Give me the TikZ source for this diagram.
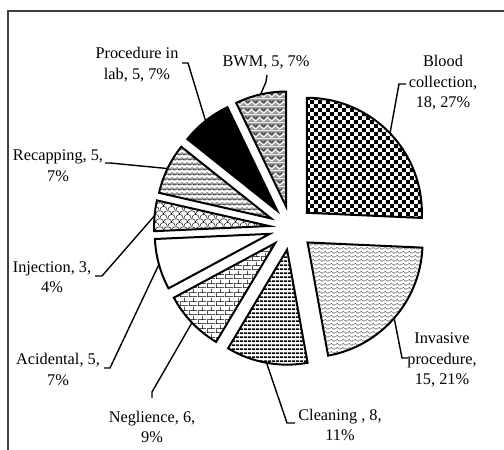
\documentclass[tikz,border=0pt]{standalone}
\usepackage{fontspec}
\setmainfont{Liberation Serif}
\usetikzlibrary{calc,patterns.meta}

% fill patterns of the slices
\tikzdeclarepattern{name=checker, type=uncolored,
  bounding box={(0pt,0pt) and (8.4pt,8.4pt)}, tile size={(8.4pt,8.4pt)},
  code={\fill (0pt,0pt) rectangle (4.2pt,4.2pt); \fill (4.2pt,4.2pt) rectangle (8.4pt,8.4pt);}}
\tikzdeclarepattern{name=wavy, type=colored,
  bounding box={(0pt,0pt) and (6pt,4pt)}, tile size={(6pt,4pt)},
  code={\draw[black!60,line width=0.7pt] (0pt,2pt) sin (1.5pt,3.2pt) cos (3pt,2pt) sin (4.5pt,0.8pt) cos (6pt,2pt);}}
\tikzdeclarepattern{name=hstripes, type=uncolored,
  bounding box={(0pt,0pt) and (4pt,4pt)}, tile size={(4pt,4pt)},
  code={\fill (0pt,0pt) rectangle (4pt,2pt);}}
\tikzdeclarepattern{name=brickwall, type=uncolored,
  bounding box={(0pt,0pt) and (9pt,9pt)}, tile size={(9pt,9pt)},
  code={\draw[line width=0.6pt] (0pt,0.3pt) -- (9pt,0.3pt) (0pt,4.8pt) -- (9pt,4.8pt)
          (0.3pt,0.3pt) -- (0.3pt,4.8pt) (4.8pt,4.8pt) -- (4.8pt,9pt);}}
\tikzdeclarepattern{name=scales, type=uncolored,
  bounding box={(0pt,0pt) and (8pt,8pt)}, tile size={(8pt,8pt)},
  code={\draw[line width=0.5pt] (0pt,0pt) arc[start angle=180,end angle=0,radius=4pt]
          (-4pt,4pt) arc[start angle=180,end angle=0,radius=4pt]
          (4pt,4pt) arc[start angle=180,end angle=0,radius=4pt];}}
\tikzdeclarepattern{name=zigzag, type=colored,
  bounding box={(0pt,0pt) and (5pt,4.5pt)}, tile size={(5pt,4.5pt)},
  code={\draw[black,line width=0.6pt] (0pt,0.8pt) -- (2.5pt,2.6pt) -- (5pt,0.8pt);
        \draw[black!45,line width=0.6pt] (0pt,2.4pt) -- (2.5pt,4.2pt) -- (5pt,2.4pt);}}
\tikzdeclarepattern{name=weave, type=colored,
  bounding box={(0pt,0pt) and (8pt,8pt)}, tile size={(8pt,8pt)},
  code={\fill[black!40] (0pt,0pt) rectangle (8pt,8pt);
        \draw[white,line width=1pt] (0pt,1pt) -- (4pt,5pt) -- (8pt,1pt);
        \draw[black,line width=0.6pt] (0pt,4pt) -- (2pt,6pt) (6pt,6pt) -- (8pt,4pt);}}

\tikzset{
  slice/.style={draw=black, line width=2pt, line join=miter},
  leader/.style={line width=1.4pt},
  lbl/.style={align=center, inner sep=0pt, font=\fontsize{16.3}{20.5}\selectfont},
  blood slice/.style={pattern=checker},
  inv slice/.style={pattern=wavy},
  clean slice/.style={pattern=hstripes},
  neg slice/.style={pattern=brickwall},
  acid slice/.style={fill=white},
  inj slice/.style={pattern=scales},
  rec slice/.style={pattern=zigzag},
  proc slice/.style={fill=black},
  bwm slice/.style={pattern=weave}
}

\begin{document}
\begin{tikzpicture}[x=1pt,y=1pt]
\useasboundingbox (0,0) rectangle (504,450);
\draw[black!75, line width=1.2pt] (8,0) -- (8,439) -- (504,439);

\coordinate (ctr) at (291,222);
% exploded slices, clockwise from the top
\foreach \a/\b/\n in {90/-2.57/blood, -2.57/-79.71/inv, -79.71/-120.86/clean,
    -120.86/-151.71/neg, -151.71/-177.43/acid, -177.43/-192.86/inj,
    -192.86/-218.57/rec, -218.57/-244.29/proc, -244.29/-270/bwm} {
  \coordinate (s-\n) at ($(ctr)+({(\a+\b)/2}:22)$);
  \draw[slice,\n\space slice] (s-\n) -- ++(\a:115) arc[start angle=\a, end angle=\b, radius=115] -- cycle;
  \coordinate (p-\n) at ($(ctr)+({(\a+\b)/2}:137)$);
}

% labels
\node[lbl] (l-blood) at (443,367) {Blood\\collection,\\18, 27\%};
\node[lbl] (l-inv) at (442,90) {Invasive\\procedure,\\15, 21\%};
\node[lbl] (l-clean) at (340,25) {Cleaning , 8,\\11\%};
\node[lbl] (l-neg) at (152,23) {Neglience, 6,\\9\%};
\node[lbl] (l-acid) at (58,80.5) {Acidental, 5,\\7\%};
\node[lbl] (l-inj) at (52,173) {Injection, 3,\\4\%};
\node[lbl] (l-rec) at (58,284.5) {Recapping, 5,\\7\%};
\node[lbl] (l-proc) at (137,385.5) {Procedure in\\lab, 5, 7\%};
\node[lbl] (l-bwm) at (266,388) {BWM, 5, 7\%};

% leader lines
\coordinate (k-blood) at (399,366);
\coordinate (k-inv) at (402,92);
\coordinate (k-clean) at (287,27);
\coordinate (k-neg) at (152,58);
\coordinate (k-acid) at (110,82);
\coordinate (k-inj) at (102,174);
\coordinate (k-rec) at (110,287);
\coordinate (k-proc) at (188,387);
\coordinate (k-bwm) at (266,368);
\draw[leader] (k-blood) ++(7,0) -- (k-blood) -- (p-blood);
\draw[leader] (k-inv) ++(6,0) -- (k-inv) -- (p-inv);
\draw[leader] (k-clean) ++(8,0) -- (k-clean) -- (p-clean);
\draw[leader] (k-neg) ++(0,-6) -- (k-neg) -- (p-neg);
\draw[leader] (k-acid) ++(-6,0) -- (k-acid) -- (p-acid);
\draw[leader] (k-inj) ++(-7,0) -- (k-inj) -- (p-inj);
\draw[leader] (k-rec) ++(-5,0) -- (k-rec) -- (p-rec);
\draw[leader] (k-proc) ++(-6,0) -- (k-proc) -- (p-proc);
\draw[leader] (k-bwm) ++(1,7) -- (k-bwm) -- (p-bwm);
\end{tikzpicture}
\end{document}
